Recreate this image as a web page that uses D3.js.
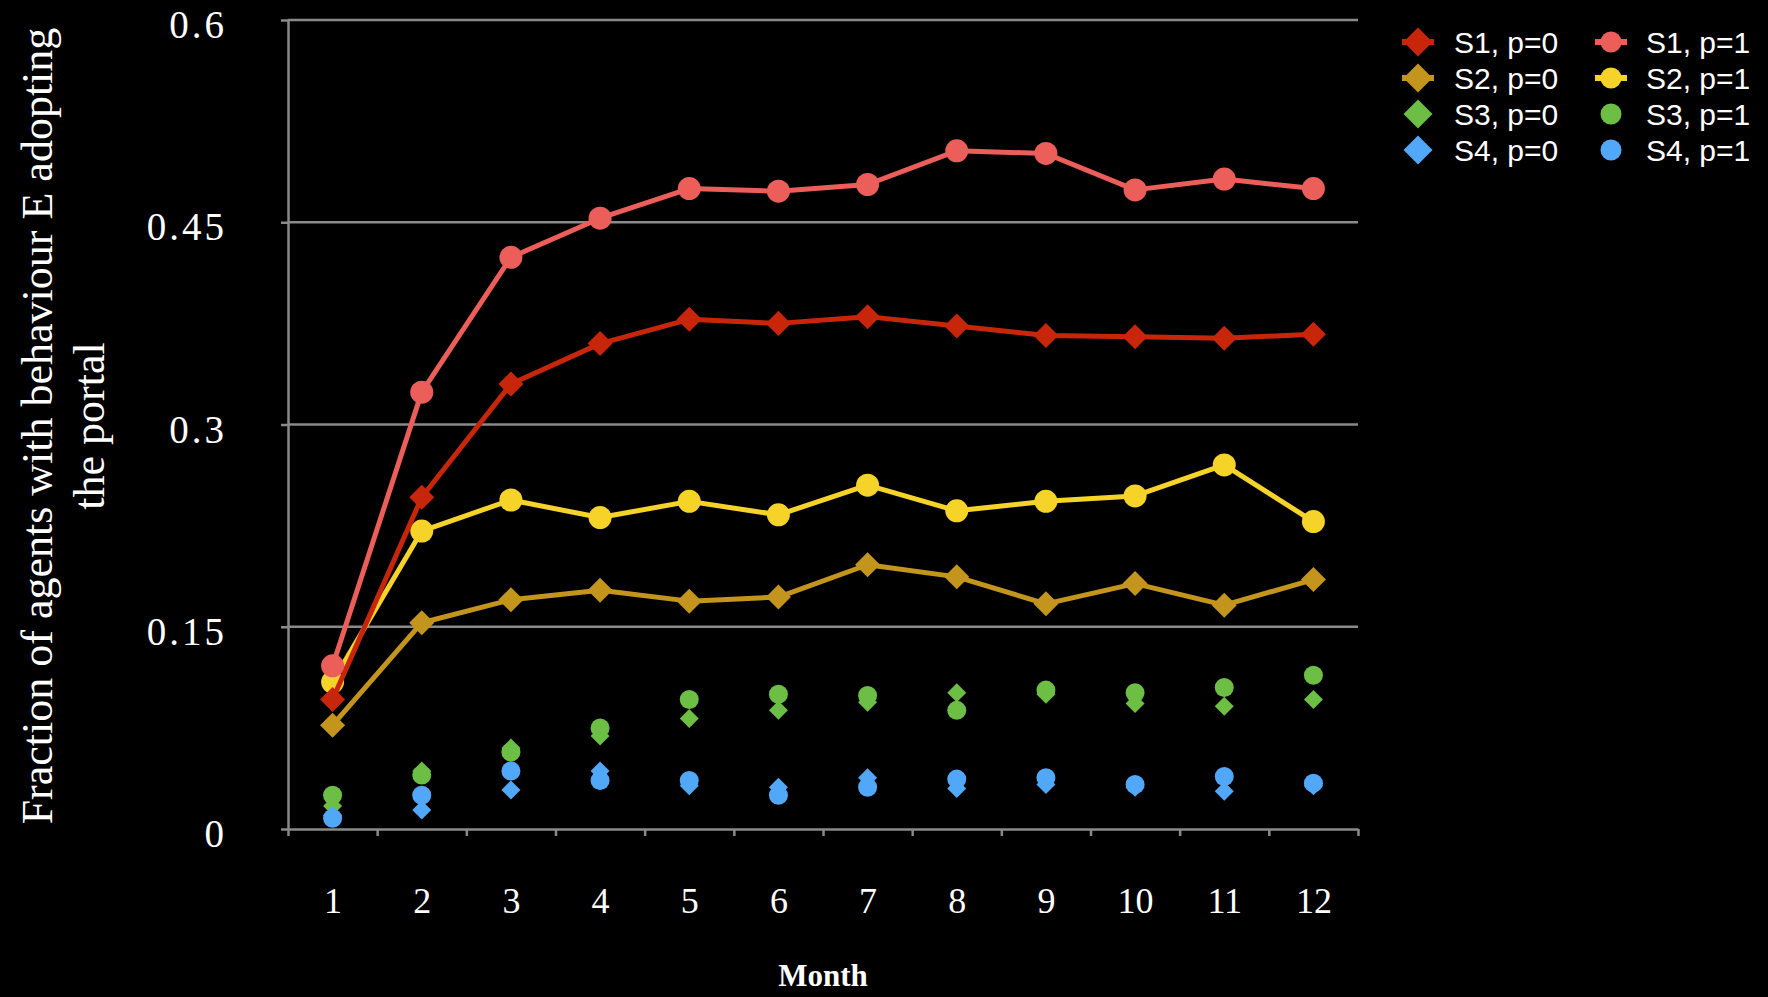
<!DOCTYPE html>
<html>
<head>
<meta charset="utf-8">
<script src="https://cdn.jsdelivr.net/npm/d3@7"></script>
<style>
  html, body { margin: 0; padding: 0; background: #000; }
  svg { display: block; }
</style>
</head>
<body>
<div id="chart"></div>
<script>
// Months on the x axis
const months = [1, 2, 3, 4, 5, 6, 7, 8, 9, 10, 11, 12];
const yTicks = [0, 0.15, 0.3, 0.45, 0.6];

// Fraction of agents per month
const s1p0 = [0.096, 0.246, 0.330, 0.360, 0.378, 0.375, 0.380, 0.373, 0.366, 0.365, 0.364, 0.367];
const s1p1 = [0.121, 0.324, 0.424, 0.453, 0.475, 0.473, 0.478, 0.503, 0.501, 0.474, 0.482, 0.475];
const s2p0 = [0.077, 0.153, 0.170, 0.177, 0.169, 0.172, 0.196, 0.187, 0.167, 0.182, 0.166, 0.185];
const s2p1 = [0.109, 0.221, 0.244, 0.231, 0.243, 0.233, 0.255, 0.236, 0.243, 0.247, 0.270, 0.228];
const s3p0 = [0.017, 0.043, 0.060, 0.069, 0.082, 0.088, 0.094, 0.101, 0.100, 0.093, 0.091, 0.096];
const s3p1 = [0.025, 0.040, 0.057, 0.075, 0.096, 0.100, 0.099, 0.088, 0.103, 0.101, 0.105, 0.114];
const s4p0 = [0.010, 0.014, 0.029, 0.043, 0.032, 0.031, 0.038, 0.030, 0.033, 0.031, 0.028, 0.032];
const s4p1 = [0.008, 0.025, 0.043, 0.036, 0.036, 0.025, 0.031, 0.037, 0.038, 0.033, 0.039, 0.034];

const seriesNames = ['S1, p=0', 'S2, p=0', 'S3, p=0', 'S4, p=0', 'S1, p=1', 'S2, p=1', 'S3, p=1', 'S4, p=1'];

// series table: name, values, colour, marker, line or not
const series = [
    { name: seriesNames[0], values: s1p0, color: '#c8260a', shape: 'diamond', line: true, big: true },
    { name: seriesNames[1], values: s2p0, color: '#c4951c', shape: 'diamond', line: true, big: true },
    { name: seriesNames[2], values: s3p0, color: '#6cbe45', shape: 'diamond', line: false, big: false },
    { name: seriesNames[3], values: s4p0, color: '#52a8f8', shape: 'diamond', line: false, big: false },
    { name: seriesNames[4], values: s1p1, color: '#ec5e59', shape: 'circle', line: true, big: true },
    { name: seriesNames[5], values: s2p1, color: '#f6d328', shape: 'circle', line: true, big: true },
    { name: seriesNames[6], values: s3p1, color: '#6cbe45', shape: 'circle', line: false, big: false },
    { name: seriesNames[7], values: s4p1, color: '#52a8f8', shape: 'circle', line: false, big: false }
];
// order in which they are painted (later on top)
const drawOrder = [2, 3, 6, 7, 1, 5, 0, 4];

const W = 1768, H = 997;
const plot = { left: 288, right: 1358, top: 20, bottom: 829 };
const gridColor = '#8a8a8a';
const serif = '"Liberation Serif", "DejaVu Serif", serif';

const svg = d3.select('#chart')
    .append('svg')
    .attr('width', W)
    .attr('height', H)
    .style('background', '#000');

const x = d3.scaleLinear().domain([0.5, 12.5]).range([plot.left, plot.right]);
const y = d3.scaleLinear().domain([0, 0.6]).range([plot.bottom, plot.top]);

// horizontal gridlines
svg.append('g')
    .selectAll('line')
    .data(yTicks.filter((d) => d > 0))
    .join('line')
    .attr('x1', plot.left)
    .attr('x2', plot.right)
    .attr('y1', (d) => y(d))
    .attr('y2', (d) => y(d))
    .attr('stroke', gridColor)
    .attr('stroke-width', 2.5);

// y axis
const yAxis = svg.append('g')
    .attr('transform', `translate(${plot.left},0)`)
    .call(d3.axisLeft(y).tickValues(yTicks).tickSize(7).tickSizeOuter(0).tickPadding(54).tickFormat((d) => String(d)));
yAxis.select('.domain').attr('stroke', gridColor).attr('stroke-width', 2.5);
yAxis.selectAll('.tick line').attr('stroke', gridColor).attr('stroke-width', 2.5);
yAxis.selectAll('.tick text')
    .attr('fill', '#fff')
    .attr('dy', '0.45em')
    .style('font-family', serif)
    .style('font-size', '39px')
    .style('letter-spacing', '3px');

// x axis: tick marks sit on the month boundaries
const xTickAxis = svg.append('g')
    .attr('transform', `translate(0,${plot.bottom})`)
    .call(d3.axisBottom(x).tickValues(d3.range(0.5, 13, 1)).tickSize(7).tickSizeOuter(0).tickFormat(''));
xTickAxis.select('.domain').attr('stroke', gridColor).attr('stroke-width', 2.5);
xTickAxis.selectAll('.tick line').attr('stroke', gridColor).attr('stroke-width', 2.5);

// x axis labels in the middle of each month
const xLabelAxis = svg.append('g')
    .attr('transform', `translate(0,${plot.bottom})`)
    .call(d3.axisBottom(x).tickValues(months).tickSize(0).tickPadding(58).tickFormat((d) => String(d)));
xLabelAxis.select('.domain').remove();
xLabelAxis.selectAll('.tick text')
    .attr('fill', '#fff')
    .style('font-family', serif)
    .style('font-size', '36px');

// axis titles
svg.append('text')
    .attr('x', 823)
    .attr('y', 986)
    .attr('text-anchor', 'middle')
    .attr('fill', '#fff')
    .style('font-family', serif)
    .style('font-weight', 'bold')
    .style('font-size', '31px')
    .text('Month');

const yTitle = svg.append('text')
    .attr('transform', 'translate(52,426) rotate(-90)')
    .attr('text-anchor', 'middle')
    .attr('fill', '#fff')
    .style('font-family', serif)
    .style('font-size', '44px');
yTitle.append('tspan').attr('x', 0).attr('dy', 0).text('Fraction of agents with behaviour E adopting');
yTitle.append('tspan').attr('x', 0).attr('dy', 52).text('the portal');

// marker helper
function marker(sel, s, size) {
    if (s.shape === 'circle') {
        return sel.append('circle').attr('r', size.r).attr('fill', s.color);
    }
    const side = size.d * Math.SQRT2;
    return sel.append('path')
        .attr('d', d3.symbol(d3.symbolSquare, side * side)())
        .attr('fill', s.color)
        .attr('transform', 'rotate(45)');
}

const line = d3.line()
    .x((d, i) => x(months[i]))
    .y((d) => y(d));

drawOrder.forEach((idx) => {
    const s = series[idx];
    const g = svg.append('g');
    if (s.line) {
        g.append('path')
            .datum(s.values)
            .attr('d', line)
            .attr('fill', 'none')
            .attr('stroke', s.color)
            .attr('stroke-width', 5)
            .attr('stroke-linejoin', 'round');
    }
    const size = s.big ? { r: 11.5, d: 12.5 } : { r: 9.5, d: 9.5 };
    s.values.forEach((v, i) => {
        const m = g.append('g')
            .attr('transform', `translate(${x(months[i])},${y(v)})`);
        marker(m, s, size);
    });
});

// legend, two columns of four rows
const legend = svg.append('g');
series.forEach((s, i) => {
    const col = i < 4 ? 0 : 1;
    const row = i % 4;
    const mx = col === 0 ? 1418 : 1611;
    const tx = col === 0 ? 1454 : 1646;
    const ly = 42 + row * 36;
    const item = legend.append('g');
    if (s.line) {
        item.append('line')
            .attr('x1', mx - 16)
            .attr('x2', mx + 16)
            .attr('y1', ly)
            .attr('y2', ly)
            .attr('stroke', s.color)
            .attr('stroke-width', 6);
    }
    const m = item.append('g').attr('transform', `translate(${mx},${ly})`);
    marker(m, s, { r: 10.5, d: 14.5 });
    item.append('text')
        .attr('x', tx)
        .attr('y', ly)
        .attr('dy', '0.36em')
        .attr('fill', '#fff')
        .style('font-family', '"Liberation Sans", Arial, sans-serif')
        .style('font-size', '30px')
        .text(s.name);
});
</script>
</body>
</html>
